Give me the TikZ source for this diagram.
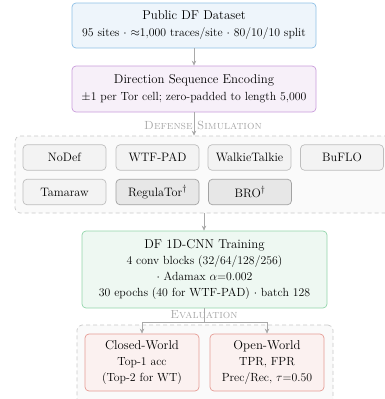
\documentclass[tikz,border=0pt]{standalone}
\usepackage{xcolor}
\usepackage{amsmath, amssymb}
\usepackage{tikz}
\usetikzlibrary{arrows.meta}

\definecolor{dsfill}{HTML}{EEF5FB}
\definecolor{dsline}{HTML}{8EC0E6}
\definecolor{encfill}{HTML}{F7F0F9}
\definecolor{encline}{HTML}{C99CDB}
\definecolor{deffill}{HTML}{F3F3F3}
\definecolor{defline}{HTML}{BEBEBE}
\definecolor{newfill}{HTML}{E7E7E7}
\definecolor{newline}{HTML}{A2A2A2}
\definecolor{trfill}{HTML}{EEF8F2}
\definecolor{trline}{HTML}{92D5AB}
\definecolor{evfill}{HTML}{FBF1F0}
\definecolor{evline}{HTML}{E69C95}
\definecolor{grpfill}{HTML}{FAFAFA}
\definecolor{grpline}{HTML}{C9C9C9}
\definecolor{arrgray}{HTML}{A9A9A9}

\tikzset{
  stage/.style={rounded corners=4pt, line width=0.7pt, align=center, inner sep=0pt, font=\fontsize{11.8}{16}\selectfont},
  defbox/.style={stage, fill=deffill, draw=defline, minimum width=83, minimum height=25.5, font=\fontsize{12.2}{14}\selectfont},
  newdef/.style={defbox, fill=newfill, draw=newline},
  group/.style={rounded corners=5pt, line width=0.7pt, draw=grpline, fill=grpfill, dash pattern=on 4pt off 3pt},
  grouplabel/.style={text=arrgray, font=\fontsize{11.8}{13}\selectfont\scshape},
  flow/.style={draw=arrgray, line width=0.8pt, -{Stealth[length=5pt,width=4.5pt]}},
}
\newcommand{\hd}[1]{{\fontsize{12.8}{16}\selectfont #1}}

\begin{document}
\begin{tikzpicture}[x=1pt,y=-1pt]
\useasboundingbox (0,0) rectangle (384,399);
% input and encoding
\node[stage, fill=dsfill, draw=dsline, minimum width=244, minimum height=45] (dataset) at (194,25.5)
  {\hd{Public DF Dataset}\\[1pt] 95 sites $\cdot$ $\approx$1,000 traces/site $\cdot$ 80/10/10 split};
\node[stage, fill=encfill, draw=encline, minimum width=244, minimum height=46] (encode) at (194,89)
  {\hd{Direction Sequence Encoding}\\[1pt] $\pm$1 per Tor cell; zero-padded to length 5,000};

% defenses
\node[group, minimum width=378, minimum height=77] (defsim) at (204,174.5) {};
\node[grouplabel] (deflabel) at (203,125) {Defense Simulation};
\node[defbox] (nodef) at (64.5,157.5) {NoDef};
\node[defbox] (wtfpad) at (157.5,157.5) {WTF-PAD};
\node[defbox] (walkie) at (249.5,157.5) {WalkieTalkie};
\node[defbox] (buflo) at (342,157.5) {BuFLO};
\node[defbox] (tamaraw) at (64.5,192) {Tamaraw};
\node[newdef] (regulator) at (157.5,192) {RegulaTor$^{\dagger}$};
\node[newdef] (bro) at (250,192) {BRO$^{\dagger}$};

% training
\node[stage, fill=trfill, draw=trline, minimum width=245, minimum height=77] (train) at (204.5,269.5)
  {\hd{DF 1D-CNN Training}\\ 4 conv blocks (32/64/128/256)\\ $\cdot$ Adamax $\alpha$=0.002\\
   30 epochs (40 for WTF-PAD) $\cdot$ batch 128};

% evaluation
\node[group, minimum width=256, minimum height=90] (evalgrp) at (205,370) {};
\node[grouplabel] (evallabel) at (204,315) {Evaluation};
\node[stage, fill=evfill, draw=evline, minimum width=114, minimum height=57] (closed) at (142,362.5)
  {\hd{Closed-World}\\ Top-1 acc\\ (Top-2 for WT)};
\node[stage, fill=evfill, draw=evline, minimum width=114, minimum height=57] (open) at (267,362.5)
  {\hd{Open-World}\\ TPR, FPR\\ Prec/Rec, $\tau$=0.50};

% connectors
\coordinate (split) at ([yshift=-14pt]train.south);
\draw[flow] (dataset) -- (encode);
\draw[flow] (encode.south) -- (encode.south |- defsim.north);
\draw[flow] (defsim.south) -- (defsim.south |- train.north);
\draw[flow] (train.south) -- (split) -| (closed.north);
\draw[flow] (split) -| (open.north);
\end{tikzpicture}
\end{document}
